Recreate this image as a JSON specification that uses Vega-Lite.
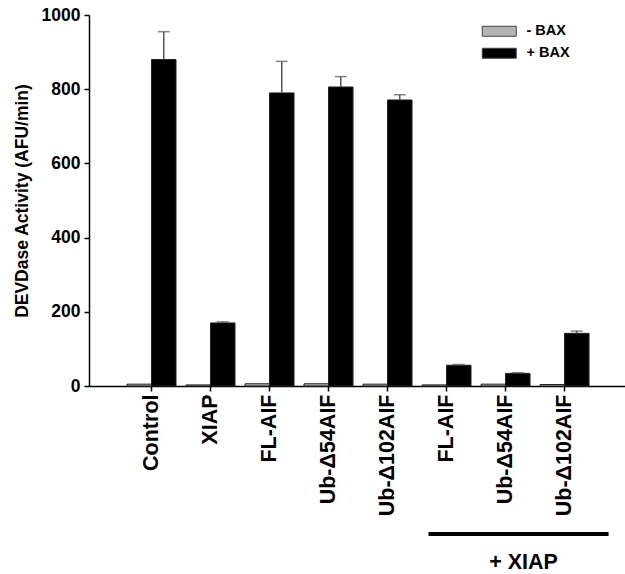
{
  "$schema": "https://vega.github.io/schema/vega-lite/v6.json",
  "width": 536,
  "height": 371,
  "autosize": {"type": "none"},
  "padding": {"left": 89, "top": 15, "right": 0, "bottom": 188},
  "background": "white",
  "config": {
    "font": "Liberation Sans",
    "view": {"stroke": null},
    "axis": {"grid": false, "domainColor": "#000", "domainWidth": 1.5, "tickColor": "#000", "tickWidth": 1.5, "tickSize": 5, "labelColor": "#000", "labelFontWeight": "bold", "titleColor": "#000", "titleFontWeight": "bold"}
  },
  "datasets": {
    "bars": [
      {"cat": "Control", "bax": "- BAX", "val": 5, "err": 5},
      {"cat": "Control", "bax": "+ BAX", "val": 880, "err": 955},
      {"cat": "XIAP", "bax": "- BAX", "val": 3, "err": 3},
      {"cat": "XIAP", "bax": "+ BAX", "val": 170, "err": 173},
      {"cat": "FL-AIF", "bax": "- BAX", "val": 6, "err": 6},
      {"cat": "FL-AIF", "bax": "+ BAX", "val": 790, "err": 875},
      {"cat": "Ub-Δ54AIF", "bax": "- BAX", "val": 6, "err": 6},
      {"cat": "Ub-Δ54AIF", "bax": "+ BAX", "val": 806, "err": 834},
      {"cat": "Ub-Δ102AIF", "bax": "- BAX", "val": 5, "err": 5},
      {"cat": "Ub-Δ102AIF", "bax": "+ BAX", "val": 771, "err": 785},
      {"cat": "FL-AIF|X", "bax": "- BAX", "val": 3, "err": 3},
      {"cat": "FL-AIF|X", "bax": "+ BAX", "val": 56, "err": 58},
      {"cat": "Ub-Δ54AIF|X", "bax": "- BAX", "val": 5, "err": 5},
      {"cat": "Ub-Δ54AIF|X", "bax": "+ BAX", "val": 34, "err": 36},
      {"cat": "Ub-Δ102AIF|X", "bax": "- BAX", "val": 4, "err": 4},
      {"cat": "Ub-Δ102AIF|X", "bax": "+ BAX", "val": 142, "err": 148}
    ],
    "bracket": [
      {"start": "FL-AIF|X", "end": "Ub-Δ102AIF|X", "mid": "Ub-Δ54AIF|X", "label": "+ XIAP", "liney": -399, "texty": -477}
    ]
  },
  "layer": [
    {
      "data": {"name": "bars"},
      "mark": {"type": "bar", "stroke": "#222", "strokeWidth": 1},
      "encoding": {
        "x": {
          "field": "cat", "type": "nominal",
          "scale": {"domain": ["Control", "XIAP", "FL-AIF", "Ub-Δ54AIF", "Ub-Δ102AIF", "FL-AIF|X", "Ub-Δ54AIF|X", "Ub-Δ102AIF|X"], "paddingInner": 0.17, "paddingOuter": 0.627, "align": 0.514},
          "axis": {"title": null, "labelAngle": -90, "labelFontSize": 21.5, "labelPadding": 3, "labelExpr": "split(datum.label, '|')[0]"}
        },
        "xOffset": {"field": "bax", "type": "nominal", "scale": {"domain": ["- BAX", "+ BAX"], "paddingInner": 0, "paddingOuter": 0}},
        "y": {
          "field": "val", "type": "quantitative",
          "scale": {"domain": [0, 1000], "nice": false},
          "axis": {"title": "DEVDase Activity (AFU/min)", "format": "d", "values": [0, 200, 400, 600, 800, 1000], "labelFontSize": 17.5, "titleFontSize": 17.5, "labelPadding": 4, "titlePadding": 10}
        },
        "color": {
          "field": "bax", "type": "nominal",
          "scale": {"domain": ["- BAX", "+ BAX"], "range": ["#b5b5b5", "#000000"]},
          "legend": {
            "title": null, "orient": "none", "legendX": 403, "legendY": 9,
            "symbolType": "M-3.4,-1H3.4V1H-3.4Z", "symbolSize": 100, "symbolStrokeColor": "#444", "symbolStrokeWidth": 1,
            "labelFontSize": 14.5, "labelFontWeight": "bold", "labelColor": "#000", "labelOffset": 20, "rowPadding": 6
          }
        }
      }
    },
    {
      "data": {"name": "bars"},
      "transform": [{"filter": "datum.bax == '+ BAX'"}],
      "mark": {"type": "rule", "color": "#555", "strokeWidth": 1.5},
      "encoding": {
        "x": {"field": "cat", "type": "nominal"},
        "xOffset": {"field": "bax", "type": "nominal"},
        "y": {"field": "val", "type": "quantitative"},
        "y2": {"field": "err"}
      }
    },
    {
      "data": {"name": "bars"},
      "transform": [{"filter": "datum.bax == '+ BAX'"}],
      "mark": {"type": "tick", "color": "#555", "size": 12, "thickness": 1.5},
      "encoding": {
        "x": {"field": "cat", "type": "nominal"},
        "xOffset": {"field": "bax", "type": "nominal"},
        "y": {"field": "err", "type": "quantitative"}
      }
    },
    {
      "data": {"name": "bracket"},
      "mark": {"type": "rule", "color": "#000", "strokeWidth": 4, "xOffset": -18, "x2Offset": 44},
      "encoding": {
        "x": {"field": "start", "type": "nominal"},
        "x2": {"field": "end"},
        "y": {"field": "liney", "type": "quantitative"}
      }
    },
    {
      "data": {"name": "bracket"},
      "mark": {"type": "text", "fontSize": 21.5, "fontWeight": "bold", "color": "#000", "dx": 18, "baseline": "middle", "align": "center"},
      "encoding": {
        "x": {"field": "mid", "type": "nominal"},
        "y": {"field": "texty", "type": "quantitative"},
        "text": {"field": "label"}
      }
    }
  ]
}
